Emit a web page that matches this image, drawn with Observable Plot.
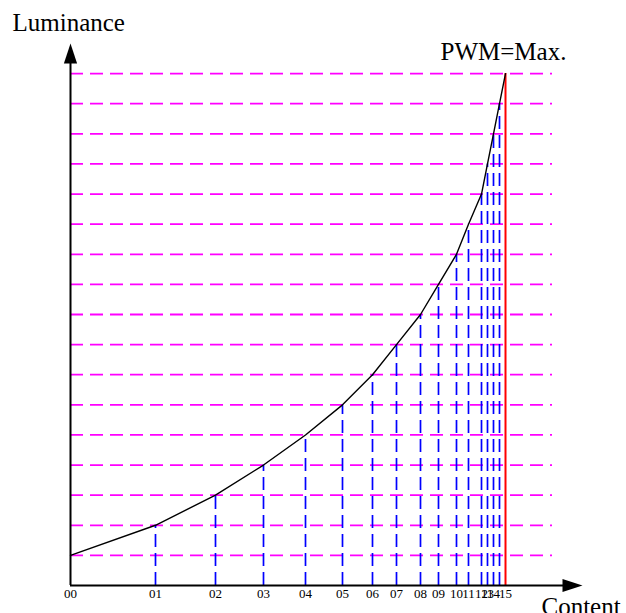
<!DOCTYPE html>
<html>
<head>
<meta charset="utf-8">
<script src="https://cdn.jsdelivr.net/npm/d3@7"></script>
<script src="https://cdn.jsdelivr.net/npm/@observablehq/plot@0.6"></script>
<style>
  html, body { margin: 0; padding: 0; background: #fff; }
  #chart svg { display: block; }
</style>
</head>
<body>
<div id="chart"></div>
<script>
// Luminance steps (one per horizontal guide line)
const luminance = [1, 2, 3, 4, 5, 6, 7, 8, 9, 10, 11, 12, 13, 14, 15, 16, 17];
// Content value reached at each luminance step
const content = [0, 85, 145, 193, 235, 272, 302, 326, 350, 368, 386, 398, 411, 417, 423, 429, 435];
// Tick labels along the content axis
const tickLabels = ["00", "01", "02", "03", "04", "05", "06", "07", "08", "09", "10", "11", "12", "13", "14", "", "15"];

const points = content.map((c, i) => ({content: c, lum: luminance[i], label: tickLabels[i]}));
const inner = points.slice(1, points.length - 1);
const maxPoint = points[points.length - 1];

const serif = "'Liberation Serif', 'DejaVu Serif', serif";

// filled arrow head, tip at origin pointing up
const arrowHead = {
  draw(ctx, size) {
    const r = Math.sqrt(size / Math.PI);
    ctx.moveTo(0, 0);
    ctx.lineTo(-0.33 * r, r);
    ctx.lineTo(0.33 * r, r);
    ctx.closePath();
  }
};

const chart = Plot.plot({
  width: 626,
  height: 613,
  marginLeft: 70,
  marginRight: 44,
  marginTop: 43,
  marginBottom: 28,
  x: {domain: [0, 512], axis: null},
  y: {domain: [0, 18], axis: null},
  style: {fontFamily: serif, background: "#fff"},
  marks: [
    // magenta horizontal dashed guides
    Plot.ruleY(luminance, {x1: 0, x2: 482, stroke: "#ff00ff", strokeWidth: 1.8, strokeDasharray: "13,7"}),
    // blue vertical dashed drops
    Plot.ruleX(inner, {x: "content", y1: 0, y2: "lum", stroke: "#0000ff", strokeWidth: 1.7, strokeDasharray: "13,6"}),
    // red max line
    Plot.ruleX([maxPoint], {x: "content", y1: 0, y2: "lum", stroke: "#ff0000", strokeWidth: 2}),
    // curve
    Plot.line(points, {x: "content", y: "lum", stroke: "#000", strokeWidth: 1.4}),
    // axes
    Plot.ruleX([0], {y1: 0, y2: 17.4, stroke: "#000", strokeWidth: 2}),
    Plot.ruleY([0], {x1: 0, x2: 495, stroke: "#000", strokeWidth: 2}),
    Plot.dot([{x: 0, y: 18}], {x: "x", y: "y", symbol: arrowHead, r: 20, fill: "#000", stroke: null}),
    Plot.dot([{x: 512, y: 0}], {x: "x", y: "y", symbol: arrowHead, r: 20, rotate: 90, fill: "#000", stroke: null}),
    // tick labels
    Plot.text(points, {x: "content", y: 0, text: "label", dy: 3, lineAnchor: "top", fontSize: 13, fill: "#000"}),
    // titles
    Plot.text(["Luminance"], {frameAnchor: "top-left", dx: -58, dy: -21, textAnchor: "start", lineAnchor: "middle", fontSize: 25, fill: "#000"}),
    Plot.text(["PWM=Max."], {frameAnchor: "top-left", dx: 370, dy: 8, textAnchor: "start", lineAnchor: "middle", fontSize: 25, fill: "#000"}),
    Plot.text(["Content"], {frameAnchor: "bottom-left", dx: 471, dy: 21, textAnchor: "start", lineAnchor: "middle", fontSize: 25, fill: "#000"})
  ]
});

document.getElementById("chart").appendChild(chart);
</script>
</body>
</html>
